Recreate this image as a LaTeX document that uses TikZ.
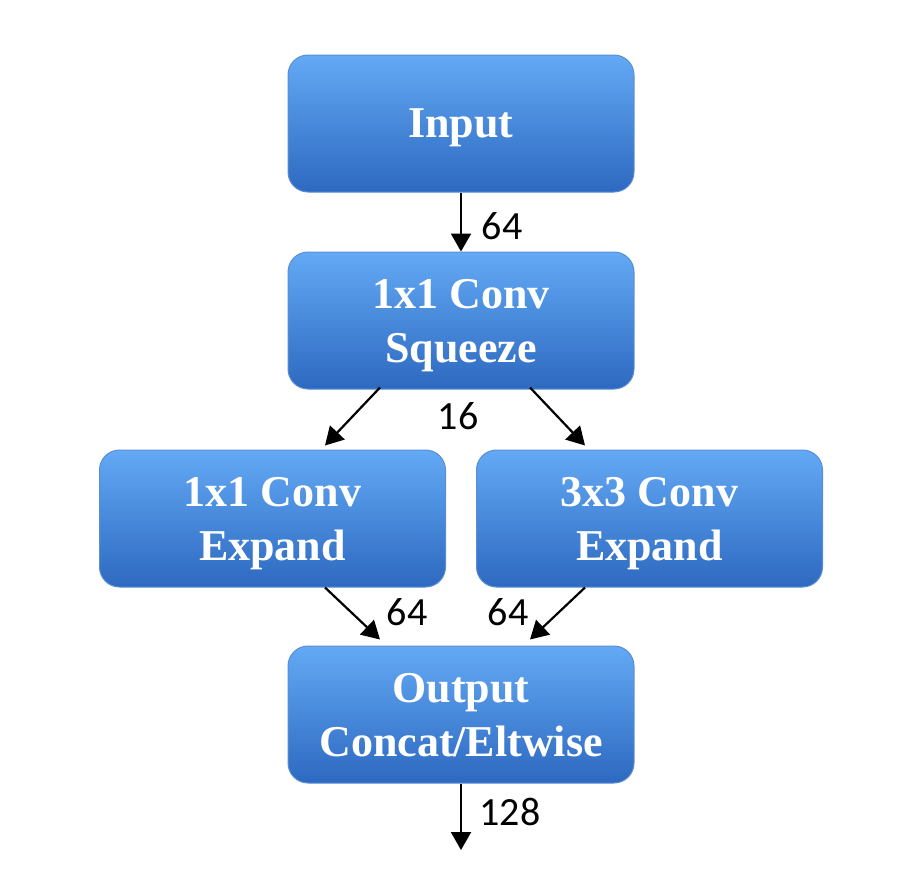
\documentclass[tikz,border=0pt]{standalone}
\usepackage{fontspec}
\setmainfont{Liberation Serif}
\newfontfamily\sizefont{Carlito}
\usepackage{tikz}
\usetikzlibrary{arrows.meta,positioning,calc}
\definecolor{layerTop}{HTML}{63A9F5}
\definecolor{layerBottom}{HTML}{2D69C0}
\definecolor{layerLine}{HTML}{5A8ED4}
\tikzset {
	layer/.style={rectangle, rounded corners=10pt, draw=layerLine, line width=.5pt,
					top color=layerTop, bottom color=layerBottom, minimum width=173pt, minimum height=68.5pt,
					text=white, font=\fontsize{22}{27}\selectfont\bfseries, align=center, text depth=-2pt},
	size/.style={font=\sizefont\fontsize{20}{22}\selectfont, inner sep=0pt},
	flow/.style={line width=1.1pt, -{Triangle[length=9pt,width=10pt]}}
}

\begin{document}
\begin{tikzpicture}[x=0.5pt, y=-0.5pt]
					\useasboundingbox (0,0) rectangle (898,884);
					\node [layer, text depth=-6pt] (input) at (461,123.5) {Input};
					\node [layer] (squeeze) at (461,320.5) {1x1 Conv\\Squeeze};
					\node [layer] (expandA) at (272.5,518.5) {1x1 Conv\\Expand};
					\node [layer] (expandB) at (649.5,518.5) {3x3 Conv\\Expand};
					\node [layer] (output) at (461,714.5) {Output\\Concat/Eltwise};
					\coordinate (end) at (461,850);
					% connectors
					\draw [flow] (input) -- (squeeze);
					\draw [flow] ($(squeeze.south)+(-81,-2)$) -- ($(expandA.north)+(52.5,-4)$);
					\draw [flow] ($(squeeze.south)+(69,-2)$) -- ($(expandB.north)+(-64.5,-4)$);
					\draw [flow] ($(expandA.south)+(52.5,0)$) -- ($(output.north)+(-81,-6)$);
					\draw [flow] ($(expandB.south)+(-64.5,0)$) -- ($(output.north)+(69,-6)$);
					\draw [flow] (output) -- (end);
					% sizes
					\node [size] (n1) at (502,226) {64};
					\node [size] (n2) at (458,416) {16};
					\node [size] (n3) at (407,612) {64};
					\node [size] (n4) at (508,612) {64};
					\node [size] (n5) at (510,812) {128};
\end{tikzpicture}
\end{document}
